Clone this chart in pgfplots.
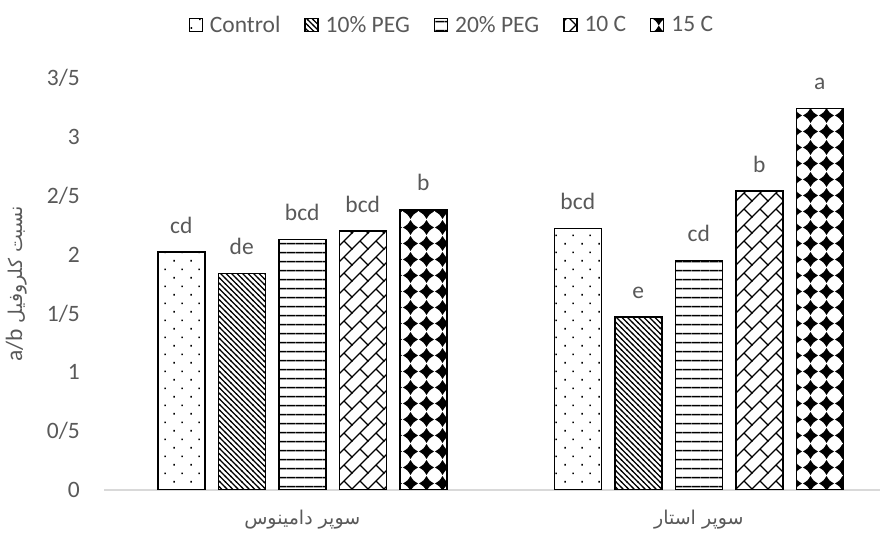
\documentclass[border=0pt]{standalone}
\usepackage{pgfplots}
\pgfplotsset{compat=1.18}
\usepackage{pgfplotstable}
\usetikzlibrary{patterns}
\usepackage{fontspec}
\setmainfont{Carlito}
\newfontfamily\arabicfont[Script=Arabic]{DejaVu Sans}
\newfontfamily\latinfont{Carlito}
\TeXXeTstate=1
\definecolor{txt}{HTML}{595959}
\definecolor{axisgray}{HTML}{D9D9D9}
\newcommand\fsz{\fontsize{23.5}{28}\selectfont}
\newcommand\afsz{\fontsize{19}{24}\selectfont}

\pgfdeclarepatternformonly{pdots}{\pgfqpoint{0pt}{0pt}}{\pgfqpoint{17pt}{17.4pt}}{\pgfqpoint{17pt}{17.4pt}}{%
  \pgfpathrectangle{\pgfqpoint{3.5pt}{3.5pt}}{\pgfqpoint{1.7pt}{1.7pt}}%
  \pgfpathrectangle{\pgfqpoint{12pt}{12.2pt}}{\pgfqpoint{1.7pt}{1.7pt}}%
  \pgfusepath{fill}}
\pgfdeclarepatternformonly{pdiag}{\pgfqpoint{-1pt}{-1pt}}{\pgfqpoint{6.5pt}{6.5pt}}{\pgfqpoint{5.5pt}{5.5pt}}{%
  \pgfsetlinewidth{1.3pt}%
  \pgfpathmoveto{\pgfqpoint{-0.5pt}{6pt}}\pgfpathlineto{\pgfqpoint{6pt}{-0.5pt}}%
  \pgfusepath{stroke}}
\pgfdeclarepatternformonly{phoriz}{\pgfqpoint{0pt}{0pt}}{\pgfqpoint{9.3pt}{9.3pt}}{\pgfqpoint{9.3pt}{9.3pt}}{%
  \pgfpathrectangle{\pgfqpoint{0pt}{3.85pt}}{\pgfqpoint{9.3pt}{1.6pt}}%
  \pgfusepath{fill}}
\pgfdeclarepatternformonly{pbrick}{\pgfqpoint{-1pt}{-1pt}}{\pgfqpoint{17pt}{17pt}}{\pgfqpoint{16pt}{16pt}}{%
  \pgfsetlinewidth{1.3pt}%
  \pgfpathmoveto{\pgfqpoint{-0.5pt}{-0.5pt}}\pgfpathlineto{\pgfqpoint{16.5pt}{16.5pt}}%
  \pgfpathmoveto{\pgfqpoint{8pt}{8pt}}\pgfpathlineto{\pgfqpoint{16.3pt}{-0.3pt}}%
  \pgfusepath{stroke}}
\pgfdeclarepatternformonly{pstar}{\pgfqpoint{0pt}{0pt}}{\pgfqpoint{15.5pt}{15.5pt}}{\pgfqpoint{15.5pt}{15.5pt}}{%
  \pgfpathmoveto{\pgfqpoint{7.75pt}{15.5pt}}%
  \pgfpathcurveto{\pgfqpoint{10.7pt}{10.7pt}}{\pgfqpoint{10.7pt}{10.7pt}}{\pgfqpoint{15.5pt}{7.75pt}}%
  \pgfpathcurveto{\pgfqpoint{10.7pt}{4.8pt}}{\pgfqpoint{10.7pt}{4.8pt}}{\pgfqpoint{7.75pt}{0pt}}%
  \pgfpathcurveto{\pgfqpoint{4.8pt}{4.8pt}}{\pgfqpoint{4.8pt}{4.8pt}}{\pgfqpoint{0pt}{7.75pt}}%
  \pgfpathcurveto{\pgfqpoint{4.8pt}{10.7pt}}{\pgfqpoint{4.8pt}{10.7pt}}{\pgfqpoint{7.75pt}{15.5pt}}%
  \pgfpathclose
  \pgfusepath{fill}}

\pgfplotstableread{
x y lab
0 2.02 cd
1 2.22 bcd
}\tControl
\pgfplotstableread{
x y lab
0 1.84 de
1 1.47 e
}\tPEGa
\pgfplotstableread{
x y lab
0 2.13 bcd
1 1.95 cd
}\tPEGb
\pgfplotstableread{
x y lab
0 2.20 bcd
1 2.54 b
}\tTena
\pgfplotstableread{
x y lab
0 2.38 b
1 3.24 a
}\tTenb

\begin{document}
\begin{tikzpicture}
\useasboundingbox (0,0) rectangle (883pt,537pt);
\begin{axis}[
  at={(104pt,47pt)}, anchor=south west,
  scale only axis, width=776pt, height=412pt,
  xmin=-0.5, xmax=1.457, ymin=0, ymax=3.5,
  ybar=13.5pt, bar width=47pt,
  axis lines*=left,
  y axis line style={draw=none},
  x axis line style={draw=axisgray, line width=1.5pt},
  major tick length=0pt,
  xtick={0,1},
  xticklabels={{\arabicfont\afsz\beginR سوپر دامینوس\endR},{\arabicfont\afsz\beginR سوپر استار\endR}},
  xticklabel style={anchor=center, yshift=-30pt, text=txt},
  ytick={0,0.5,1,1.5,2,2.5,3,3.5},
  yticklabels={0,0/5,1,1/5,2,2/5,3,3/5},
  yticklabel style={font=\fsz, text=txt, anchor=east, inner sep=0pt, xshift=-24pt},
  ylabel={\arabicfont\afsz\beginR نسبت کلروفیل \beginL{\latinfont\fsz a/b}\endL\endR},
  ylabel style={at={(axis description cs:-0.113,0.5)}, anchor=center, text=txt},
  point meta=explicit symbolic,
  nodes near coords,
  every node near coord/.append style={font=\fsz, text=txt, anchor=south, inner sep=0pt, yshift=18pt},
  legend columns=-1,
  legend style={at={(axis description cs:0.447,1.129)}, anchor=center, draw=none, fill=none,
    font=\fsz, text=txt, nodes={inner sep=0pt},
    /tikz/every odd column/.append style={column sep=7pt},
    /tikz/every even column/.append style={column sep=24pt}},
  legend image code/.code={\draw[#1, line width=1.3pt] (0pt,-6.5pt) rectangle (13pt,6.5pt);},
]
\addplot[draw=black, line width=1.5pt, pattern=pdots] table[x=x,y=y,meta=lab]{\tControl};
\addplot[draw=black, line width=1.5pt, pattern=pdiag] table[x=x,y=y,meta=lab]{\tPEGa};
\addplot[draw=black, line width=1.5pt, pattern=phoriz] table[x=x,y=y,meta=lab]{\tPEGb};
\addplot[draw=black, line width=1.5pt, pattern=pbrick] table[x=x,y=y,meta=lab]{\tTena};
\addplot[draw=black, line width=1.5pt, pattern=pstar] table[x=x,y=y,meta=lab]{\tTenb};
\legend{Control, 10\% PEG, 20\% PEG, 10 C, 15 C}
\end{axis}
\end{tikzpicture}
\end{document}
